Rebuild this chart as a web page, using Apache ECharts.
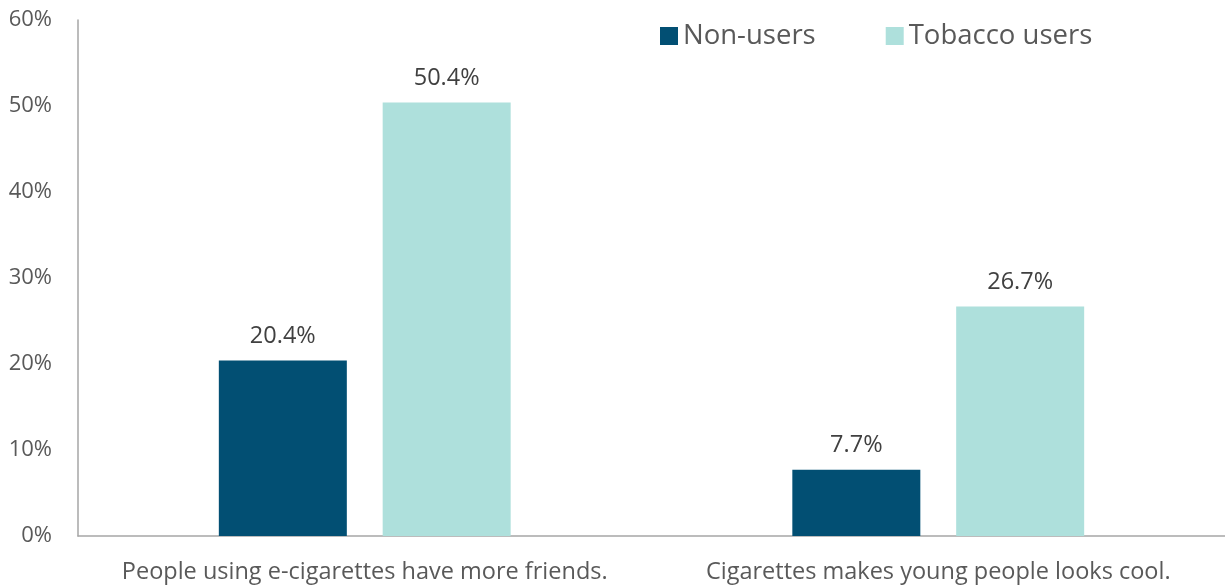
<!DOCTYPE html>
<html><head><meta charset="utf-8">
<script src="https://cdn.jsdelivr.net/npm/echarts@6/dist/echarts.min.js"></script>
<style>html,body{margin:0;padding:0;background:#fff}#c{width:1225px;height:586px}</style>
</head><body><div id="c"></div>
<script>
const categories = ["People using e-cigarettes have more friends.", "Cigarettes makes young people looks cool."];
const nonUsers = [20.4, 7.7];
const tobaccoUsers = [50.4, 26.7];
const yTicks = [0, 10, 20, 30, 40, 50, 60];
const FONT = "'Open Sans', 'Noto Sans', sans-serif";
const chart = echarts.init(document.getElementById('c'), null, {renderer: 'canvas'});
chart.setOption({
  animation: false,
  textStyle: {fontFamily: FONT},
  legend: {
    top: 17, left: 655, itemWidth: 18, itemHeight: 18, itemGap: 70,
    icon: 'rect',
    textStyle: {fontSize: 27.5, color: '#595959', fontFamily: FONT},
    data: ['Non-users', 'Tobacco users']
  },
  grid: {left: 78, right: 0, top: 20, bottom: 50, containLabel: false},
  xAxis: {
    type: 'category', data: categories,
    axisLine: {lineStyle: {color: '#a6a6a6', width: 1.5}},
    axisTick: {show: false},
    axisLabel: {interval: 0, hideOverlap: false, fontSize: 23.5, color: '#595959', margin: 24, fontFamily: FONT}
  },
  yAxis: {
    type: 'value', min: yTicks[0], max: yTicks[yTicks.length - 1], interval: 10,
    axisLine: {show: true, lineStyle: {color: '#a6a6a6', width: 1.5}},
    axisTick: {show: false},
    splitLine: {show: false},
    axisLabel: {fontSize: 22, color: '#595959', margin: 26, formatter: v => v + '%', fontFamily: FONT}
  },
  series: [
    {name: 'Non-users', type: 'bar', data: nonUsers, barWidth: 128, barGap: '28%',
     itemStyle: {color: '#024F73'},
     label: {show: true, position: 'top', distance: 12, fontSize: 23.5, color: '#404040', formatter: p => p.value.toFixed(1) + '%', fontFamily: FONT}},
    {name: 'Tobacco users', type: 'bar', data: tobaccoUsers, barWidth: 128,
     itemStyle: {color: '#AEE0DC'},
     label: {show: true, position: 'top', distance: 12, fontSize: 23.5, color: '#404040', formatter: p => p.value.toFixed(1) + '%', fontFamily: FONT}}
  ]
});
</script></body></html>
